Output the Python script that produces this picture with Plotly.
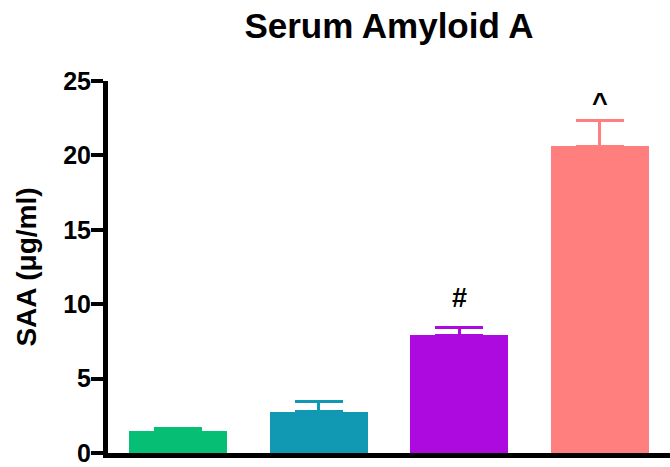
import plotly.graph_objects as go

# Serum amyloid A by group: mean and upper SEM
groups = ["G1", "G2", "G3", "G4"]
saa_mean = [1.51, 2.77, 7.91, 20.63]
saa_sem = [0.17, 0.67, 0.53, 1.73]
bar_colors = ["#06BF74", "#1199B4", "#AC0ADE", "#FF7F7F"]
marks = ["", "", "#", "^"]
mark_y = [None, None, 10.4, 23.5]

FONT = "Liberation Sans, Arial, sans-serif"

fig = go.Figure()
for g, m, e, c in zip(groups, saa_mean, saa_sem, bar_colors):
    fig.add_trace(go.Bar(
        x=[g], y=[m], width=0.7,
        marker=dict(color=c, line=dict(width=0)),
        error_y=dict(type="data", array=[e], arrayminus=[0], symmetric=False,
                     color=c, thickness=3, width=24),
        showlegend=False,
    ))

for g, t, yy in zip(groups, marks, mark_y):
    if t:
        fig.add_annotation(x=g, y=yy, text=t, showarrow=False,
                           font=dict(family=FONT, size=27, color="black", weight="bold"))

fig.update_layout(
    width=670, height=467,
    margin=dict(l=108, r=0, t=81, b=7),
    paper_bgcolor="white", plot_bgcolor="white",
    title=dict(text="Serum Amyloid A", x=(108 + 670) / 2 / 670, xanchor="center",
               y=1 - 26 / 467, yanchor="middle",
               font=dict(family=FONT, size=35, color="black", weight="bold")),
    bargap=0,
    font=dict(family=FONT, color="black"),
)
fig.update_xaxes(
    range=[-0.5, 3.5], showticklabels=False, ticks="", showgrid=False,
    showline=True, linewidth=5, linecolor="black", zeroline=False,
)
fig.update_yaxes(
    range=[0, 25], tickvals=[0, 5, 10, 15, 20, 25], ticks="outside",
    ticklen=12, tickwidth=4, tickcolor="black", showgrid=False, zeroline=False,
    showline=True, linewidth=5, linecolor="black",
    tickfont=dict(family=FONT, size=25, color="black", weight="bold"),
    ticklabeloverflow="allow", ticklabelstandoff=-5,
    title=dict(text="SAA (μg/ml)", standoff=20,
               font=dict(family=FONT, size=28, color="black", weight="bold")),
)

fig.write_html("out.html")
